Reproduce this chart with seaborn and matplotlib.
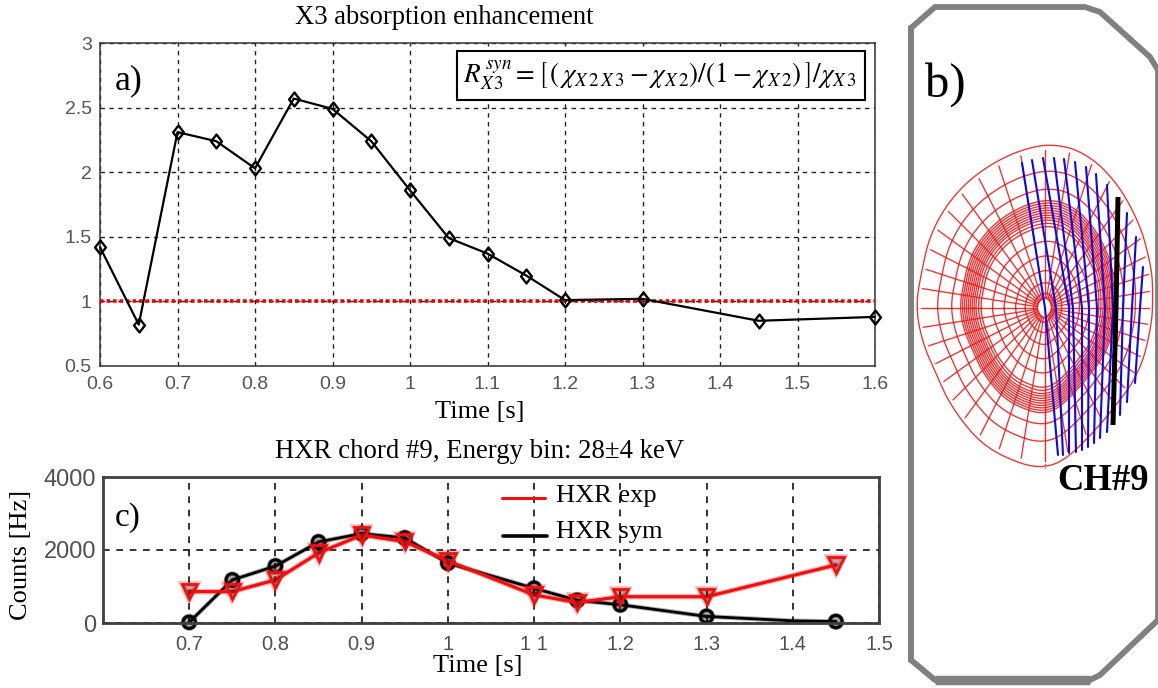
import numpy as np
import pandas as pd
import matplotlib
matplotlib.use("Agg")
import matplotlib.pyplot as plt
import matplotlib.patheffects as pe
from matplotlib.patches import Rectangle
from matplotlib.path import Path
import seaborn as sns

# ---------- data ----------
time_a = [0.6, 0.65, 0.7, 0.75, 0.8, 0.85, 0.9, 0.95, 1.0, 1.05, 1.1, 1.15, 1.2, 1.3, 1.45, 1.5, 1.6]
enh_a = [1.42, 0.82, 2.31, 2.24, 2.03, 2.57, 2.49, 2.24, 1.86, 1.49, 1.37, 1.20, 1.01, 1.02, 0.85, 0.86, 0.88]
marks_a = [0, 1, 2, 3, 4, 5, 6, 7, 8, 9, 10, 11, 12, 13, 14, 16]

time_c_exp = [0.7, 0.75, 0.8, 0.85, 0.9, 0.95, 1.0, 1.1, 1.15, 1.2, 1.3, 1.45]
hxr_exp = [860, 860, 1180, 1920, 2410, 2230, 1700, 770, 560, 720, 720, 1590]
time_c_sym = [0.7, 0.75, 0.8, 0.85, 0.9, 0.95, 1.0, 1.1, 1.15, 1.2, 1.3, 1.35, 1.4, 1.45]
hxr_sym = [20, 1180, 1560, 2220, 2450, 2330, 1640, 950, 620, 500, 180, 120, 60, 40]
marks_sym = [0, 1, 2, 3, 4, 5, 6, 7, 8, 9, 10, 13]

xticks_a = [0.6, 0.7, 0.8, 0.9, 1, 1.1, 1.2, 1.3, 1.4, 1.5, 1.6]
xticklabels_a = ["0.6", "0.7", "0.8", "0.9", "1", "1.1", "1.2", "1.3", "1.4", "1.5", "1.6"]
yticks_a = [0.5, 1, 1.5, 2, 2.5, 3]
yticklabels_a = ["0.5", "1", "1.5", "2", "2.5", "3"]
xticks_c = [0.7, 0.8, 0.9, 1, 1.1, 1.2, 1.3, 1.4, 1.5]
xticklabels_c = ["0.7", "0.8", "0.9", "1", "1 1", "1.2", "1.3", "1.4", "1.5"]
yticks_c = [0, 2000, 4000]

# panel b, geometry read in reference pixels
vessel_x = [911, 911, 935, 1085, 1100, 1150, 1158, 1158, 1100, 1090, 935, 911, 911]
vessel_y = [660, 28, 7, 7, 12, 57, 70, 620, 675, 680, 680, 660, 28]
axis_x, axis_y = 1045, 308
lcfs_x = [917, 923, 940, 967, 1000, 1033, 1057, 1087, 1113, 1133, 1147, 1152, 1148, 1137, 1113, 1087, 1060, 1043, 1013, 987, 960, 937, 922]
lcfs_y = [308, 270, 217, 183, 160, 147, 144, 155, 180, 213, 253, 297, 337, 373, 407, 437, 463, 469, 460, 447, 417, 373, 337]
flux_levels = [0.06, 0.09, 0.155, 0.23, 0.32, 0.41, 0.5, 0.52, 0.54, 0.555, 0.57, 0.585, 0.6, 0.615, 0.63, 0.645, 0.66, 0.73, 0.84, 1.0]
spoke_angles = list(range(0, 360, 9))
chord_top_x = [1022, 1032, 1043, 1054, 1064, 1075, 1086, 1096, 1107, 1127, 1136, 1143]
chord_top_y = [163, 160, 158, 158, 159, 162, 167, 174, 185, 213, 237, 267]
chord_mid_x = [1045, 1056, 1069, 1073, 1082, 1089, 1097, 1105, 1113, 1123, 1132, 1140]
chord_mid_y = [308, 308, 308, 308, 308, 308, 308, 308, 308, 308, 308, 308]
chord_bot_x = [1058, 1063, 1069, 1076, 1082, 1088, 1094, 1100, 1107, 1120, 1127, 1135]
chord_bot_y = [455, 455, 453, 452, 450, 447, 443, 438, 432, 415, 402, 383]
ch9_x = [1118, 1116, 1113]
ch9_y = [197, 308, 425]

# ---------- set-up ----------
W, H = 1158, 688
sns.set_theme(style="white")
plt.rcParams["font.family"] = ["Liberation Serif", "DejaVu Serif"]
plt.rcParams["mathtext.fontset"] = "stix"
fig = plt.figure(figsize=(W / 100, H / 100), dpi=100, facecolor="white")


def axes_px(l, t, r, b):
    return fig.add_axes([l / W, 1 - b / H, (r - l) / W, (b - t) / H])


def label_px(x, y, s, size, **kw):
    kw.setdefault("ha", "center")
    kw.setdefault("va", "center")
    return fig.text(x / W, 1 - y / H, s, fontsize=size, color="black", **kw)


def style_ticks(ax, color, size):
    for lab in ax.get_xticklabels() + ax.get_yticklabels():
        lab.set_fontfamily("Liberation Sans")
        lab.set_color(color)
        lab.set_fontsize(size)


narrow_diamond = Path([(0, 1), (0.78, 0), (0, -1), (-0.78, 0), (0, 1)], closed=True)

# ---------- panel a ----------
ax = axes_px(100, 43, 875, 366)
df_a = pd.DataFrame({"t": time_a, "r": enh_a})
ax.grid(True, color="#222222", ls=(0, (3.2, 3.2)), lw=1.0)
ax.set_axisbelow(True)
sns.lineplot(data=df_a, x="t", y="r", ax=ax, color="black", lw=1.6, estimator=None,
             marker=narrow_diamond, ms=10, mfc="none", mec="black", mew=1.7,
             markevery=marks_a, clip_on=False, zorder=5)
ax.axhline(1, color="#f00000", lw=2.6, ls=(0, (1, 0.8)), zorder=4)
ax.set_xlim(0.6, 1.6)
ax.set_ylim(0.5, 3)
ax.set_xticks(xticks_a, xticklabels_a)
ax.set_yticks(yticks_a, yticklabels_a)
ax.tick_params(length=0, pad=7)
style_ticks(ax, "#555555", 14)
ax.tick_params(axis="y", pad=6)
for s in ax.spines.values():
    s.set_color("#333333")
    s.set_linewidth(1.1)
ax.set_xlabel("")
ax.set_ylabel("")
label_px(444, 18, "X3 absorption enhancement", 19.2)
label_px(480, 412, "Time [s]", 19)
label_px(115, 81, "a)", 26, ha="left")
fig.add_artist(Rectangle((456.5 / W, 1 - 100 / H), 408 / W, 49 / H, transform=fig.transFigure,
                         fc="white", ec="black", lw=1.5, zorder=9))
label_px(660, 76,
         r"$R_{X\,3}^{\,syn}=\left[\,(\,\chi_{X\,2\,X\,3}-\chi_{X\,2})/(1-\chi_{X\,2})\,\right]/\chi_{X\,3}$",
         19.6, zorder=10)

# ---------- panel c ----------
axc = axes_px(103, 477, 879, 623)
df_exp = pd.DataFrame({"t": time_c_exp, "v": hxr_exp})
df_sym = pd.DataFrame({"t": time_c_sym, "v": hxr_sym})
axc.grid(True, color="#111111", ls=(0, (4, 4)), lw=1.2)
axc.set_axisbelow(True)
l_sym = sns.lineplot(data=df_sym, x="t", y="v", ax=axc, color="black", lw=2.0, estimator=None,
                     marker="o", ms=9, mfc="none", mec="black", mew=2.2, markevery=marks_sym,
                     clip_on=False).lines[-1]
l_exp = sns.lineplot(data=df_exp, x="t", y="v", ax=axc, color="#f01010", lw=2.3, estimator=None,
                     marker="v", ms=11, mfc="none", mec="#f01010", mew=2, clip_on=False).lines[-1]
l_sym.set_path_effects([pe.withStroke(linewidth=3.4, foreground="#000000", alpha=0.3)])
l_exp.set_path_effects([pe.withStroke(linewidth=4.0, foreground="#f01010", alpha=0.3)])
axc.set_xlim(0.6, 1.5)
axc.set_ylim(0, 4000)
axc.set_xticks(xticks_c, xticklabels_c)
axc.set_yticks(yticks_c, [str(v) for v in yticks_c])
axc.tick_params(length=0, pad=9)
style_ticks(axc, "#505050", 14.5)
for lab in axc.get_yticklabels():
    lab.set_fontsize(17)
axc.tick_params(axis="y", pad=5)
for s in axc.spines.values():
    s.set_color("#404040")
    s.set_linewidth(2)
axc.set_xlabel("")
axc.set_ylabel("")
label_px(480, 451, "HXR chord #9, Energy bin: 28\u00b14 keV", 19.3)
label_px(478, 666, "Time [s]", 19)
label_px(21, 555, "Counts [Hz]", 19, rotation=90)
label_px(115, 518, "c)", 24, ha="left")
fig.add_artist(plt.Line2D([502 / W, 545 / W], [1 - 498 / H] * 2, color="#f01010", lw=2.2))
fig.add_artist(plt.Line2D([503 / W, 547 / W], [1 - 536 / H] * 2, color="black", lw=2.6))
label_px(556, 496, "HXR exp", 19, ha="left")
label_px(556, 532, "HXR sym", 19, ha="left")

# ---------- panel b ----------
axb = axes_px(900, 0, W, H)
axb.set_xlim(900, W)
axb.set_ylim(H, 0)
axb.axis("off")
axb.plot(vessel_x, vessel_y, color="#808080", lw=4.2, solid_joinstyle="round", clip_on=False)
axb.plot(vessel_x[9:11], vessel_y[9:11], color="#808080", lw=6.8, solid_capstyle="butt")

ang = np.arctan2(np.array(lcfs_y) - axis_y, np.array(lcfs_x) - axis_x)
rad = np.hypot(np.array(lcfs_x) - axis_x, np.array(lcfs_y) - axis_y)
order = np.argsort(ang)
ang, rad = ang[order], rad[order]
theta = np.linspace(-np.pi, np.pi, 361)
rb = np.interp(theta, ang, rad, period=2 * np.pi)
# soften the corners of the hand-read outline
kernel = np.ones(15) / 15
rb = np.convolve(np.r_[rb[:-1][-7:], rb[:-1], rb[:-1][:7]], kernel, mode="valid")
rb = np.r_[rb, rb[0]]
for lev in flux_levels:
    r = rb * lev
    axb.plot(axis_x + r * np.cos(theta), axis_y + r * np.sin(theta),
             color="#f01818", lw=0.95, alpha=0.9)
for a in spoke_angles:
    t = np.deg2rad(a if a <= 180 else a - 360)
    rr = np.interp(t, theta, rb)
    axb.plot([axis_x + 0.06 * rr * np.cos(t), axis_x + 0.97 * rr * np.cos(t)],
             [axis_y + 0.06 * rr * np.sin(t), axis_y + 0.97 * rr * np.sin(t)],
             color="#f01818", lw=0.95, alpha=0.9)
axb.plot([axis_x, axis_x], [axis_y, 469], color="#f02020", lw=0.9, ls=":")
for i in range(len(chord_top_x)):
    axb.plot([chord_top_x[i], chord_mid_x[i], chord_bot_x[i]],
             [chord_top_y[i], chord_mid_y[i], chord_bot_y[i]], color="#0808f0", lw=1.5)
axb.plot(ch9_x, ch9_y, color="black", lw=3.6, solid_capstyle="butt")
axb.text(1057, 481, "CH#9", fontsize=26.4, fontweight="bold", ha="left", va="center", color="black")
axb.text(925, 85, "b)", fontsize=35, ha="left", va="center", color="black")

fig.savefig("out.png", dpi=100)
